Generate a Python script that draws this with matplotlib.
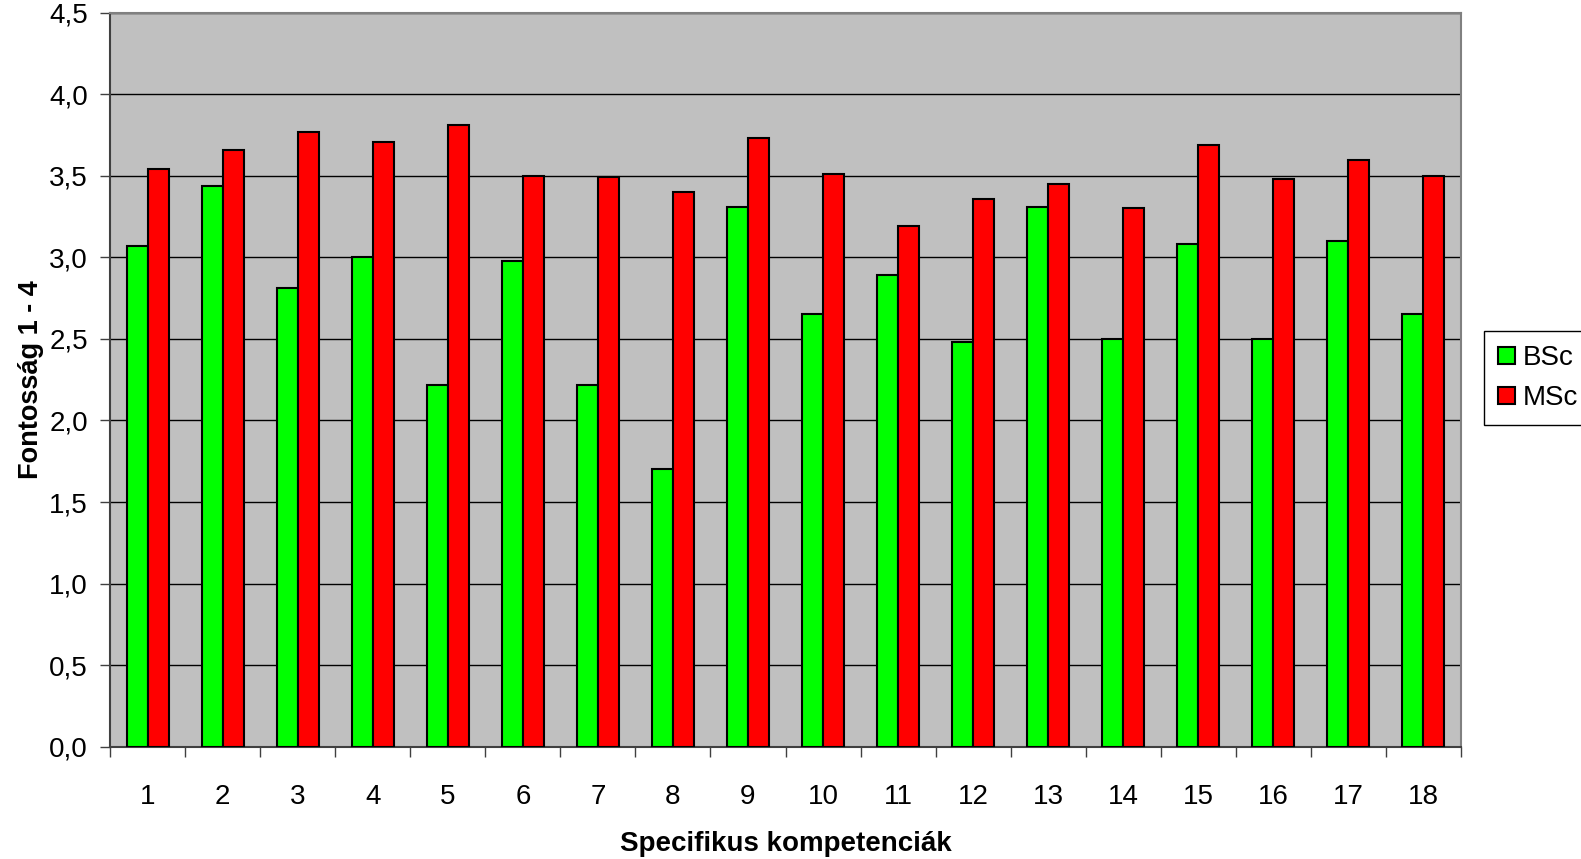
import numpy as np
import matplotlib.pyplot as plt
from matplotlib.ticker import FixedLocator, FuncFormatter

# Values
categories = [str(i) for i in range(1, 19)]
bsc = [3.07, 3.44, 2.81, 3.00, 2.22, 2.98, 2.22, 1.70, 3.31,
       2.65, 2.89, 2.48, 3.31, 2.50, 3.08, 2.50, 3.10, 2.65]
msc = [3.54, 3.66, 3.77, 3.71, 3.81, 3.50, 3.49, 3.40, 3.73,
       3.51, 3.19, 3.36, 3.45, 3.30, 3.69, 3.48, 3.60, 3.50]

plt.rcParams['font.family'] = ['Liberation Sans', 'DejaVu Sans']

fig = plt.figure(figsize=(15.81, 8.59), dpi=100)
ax = fig.add_axes([0.0696, 0.1307, 0.8545, 0.8545])

x = np.arange(1, len(categories) + 1)
w = 0.28
ax.bar(x - w / 2, bsc, w, color='#00FF00', edgecolor='black', linewidth=1.5, label='BSc', zorder=3)
ax.bar(x + w / 2, msc, w, color='#FF0000', edgecolor='black', linewidth=1.5, label='MSc', zorder=3)

ax.set_facecolor('#C0C0C0')
ax.set_xlim(0.5, len(categories) + 0.5)
ax.set_ylim(0, 4.5)
ax.set_yticks(np.arange(0, 4.51, 0.5))
ax.yaxis.set_major_formatter(FuncFormatter(lambda v, p: f"{v:.1f}".replace('.', ',')))
ax.grid(axis='y', color='black', linewidth=1, zorder=1)

ax.set_xticks(x)
ax.set_xticklabels(categories)
ax.xaxis.set_minor_locator(FixedLocator(np.arange(0.5, len(categories) + 1, 1)))
ax.tick_params(axis='x', which='major', length=0, pad=27, labelsize=20)
ax.tick_params(axis='x', which='minor', length=7, width=1, color='#404040', direction='out')
ax.tick_params(axis='y', length=7, width=1, color='#404040', pad=9, labelsize=20)

for s in ax.spines.values():
    s.set_color('#808080')
    s.set_linewidth(1.5)
ax.spines['left'].set_color('#404040')
ax.spines['bottom'].set_color('#404040')

ax.set_xlabel('Specifikus kompetenciák', fontsize=20, fontweight='bold', labelpad=15)
ax.set_ylabel('Fontosság 1 - 4', fontsize=19.5, fontweight='bold', labelpad=4)

leg = ax.legend(loc='center left', bbox_to_anchor=(1.017, 0.502), fontsize=20,
                frameon=True, fancybox=False, edgecolor='black', framealpha=1,
                handlelength=0.6, handleheight=0.6, handletextpad=0.3,
                borderpad=0.5, labelspacing=0.5, borderaxespad=0)
leg.get_frame().set_linewidth(1)

fig.savefig('out.png', dpi=100)
